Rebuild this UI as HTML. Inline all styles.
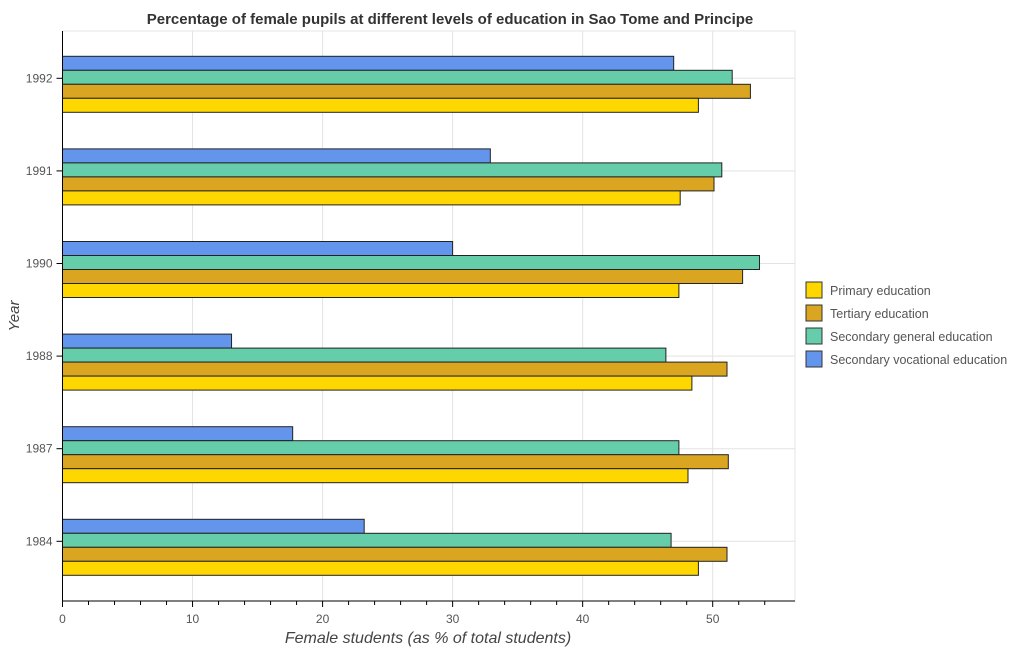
<!DOCTYPE html>
<html><head><meta charset="utf-8"><style>
body{margin:0;background:#fff;font-family:"Liberation Sans",sans-serif}
</style></head><body>
<svg width="1009" height="650" viewBox="0 0 1009 650" id="c">
<text x="450" y="24" text-anchor="middle" font-size="15" font-weight="bold" fill="#333">Percentage of female pupils at different levels of education in Sao Tome and Principe</text>
<text x="428" y="643" text-anchor="middle" font-size="16" font-style="italic" fill="#444">Female students (as % of total students)</text>
<text transform="translate(19,316) rotate(-90)" text-anchor="middle" font-size="15" font-style="italic" fill="#444">Year</text>
<g id="plot"></g>
<g>
<rect x="806" y="282" width="16" height="16" fill="#FFD700" stroke="#333"/>
<text x="830" y="295" font-size="12.5" fill="#555">Primary education</text>
<rect x="806" y="305" width="16" height="16" fill="#DAA520" stroke="#333"/>
<text x="830" y="318" font-size="12.5" fill="#555">Tertiary education</text>
<rect x="806" y="328" width="16" height="16" fill="#66CDAA" stroke="#333"/>
<text x="830" y="341" font-size="12.5" fill="#555">Secondary general education</text>
<rect x="806" y="351" width="16" height="16" fill="#6495ED" stroke="#333"/>
<text x="830" y="364" font-size="12.5" fill="#555">Secondary vocational education</text>
</g>
</svg>
<script>
const years=["1984","1987","1988","1990","1991","1992"];
const primary=[48.9,48.1,48.4,47.4,47.5,48.9];
const tertiary=[51.1,51.2,51.1,52.3,50.1,52.9];
const secGeneral=[46.8,47.4,46.4,53.6,50.7,51.5];
const secVocational=[23.2,17.7,13.0,30.0,32.9,47.0];
const xTicks=[0,10,20,30,40,50];
const NS="http://www.w3.org/2000/svg";
const g=document.getElementById('plot');
const L=62.5,R=795,T=31,B=601;
const x=v=>L+v*13.004;
const yc=i=>547.3-i*92.6;
function mk(t,a){const e=document.createElementNS(NS,t);for(const k in a)e.setAttribute(k,a[k]);g.appendChild(e);return e;}
let fr=mk('rect',{x:L,y:T,width:R-L,height:B-T,fill:'none',stroke:'#e6e6e6'});


xTicks.forEach(v=>{
 const l=mk('line',{x1:x(v),x2:x(v),y1:T,y2:B,stroke:'#e3e3e3'});
 
 
 for(let k=1;k<5&&v<50;k++){mk('line',{x1:x(v+k*2),x2:x(v+k*2),y1:B,y2:B+4,stroke:'#000'});}
 mk('line',{x1:x(v),x2:x(v),y1:B,y2:B+6,stroke:'#000'});
 const t=mk('text',{x:x(v),y:B+22,'text-anchor':'middle','font-size':12,fill:'#555'});
 t.textContent=v;
 
 
});
mk('line',{x1:x(52),x2:x(52),y1:B,y2:B+4,stroke:'#000'});
mk('line',{x1:x(54),x2:x(54),y1:B,y2:B+4,stroke:'#000'});
years.forEach((yr,i)=>{
 const ty=yc(i)-6;
 const gl=mk('line',{x1:L,x2:R,y1:ty,y2:ty,stroke:'#e3e3e3'});
 
 
 mk('line',{x1:L-6,x2:L,y1:ty,y2:ty,stroke:'#000'});
 const t=mk('text',{x:L-10,y:ty+4,'text-anchor':'end','font-size':12,fill:'#555'});
 t.textContent=yr;
 
 
});
const series=[[secVocational,'#6495ED','vocational'],[secGeneral,'#66CDAA','general'],[tertiary,'#DAA520','tertiary'],[primary,'#FFD700','primary']];
years.forEach((yr,i)=>{
 series.forEach((s,j)=>{
  const top=yc(i)-28+j*14;
  const r=mk('rect',{x:L,y:top,width:x(s[0][i])-L,height:14,fill:s[1],stroke:'#222','stroke-width':1});
  
  
 });
});
mk('line',{x1:L,x2:L,y1:T,y2:B,stroke:'#000'});
mk('line',{x1:L,x2:R,y1:B,y2:B,stroke:'#000'});
</script>
</body></html>
